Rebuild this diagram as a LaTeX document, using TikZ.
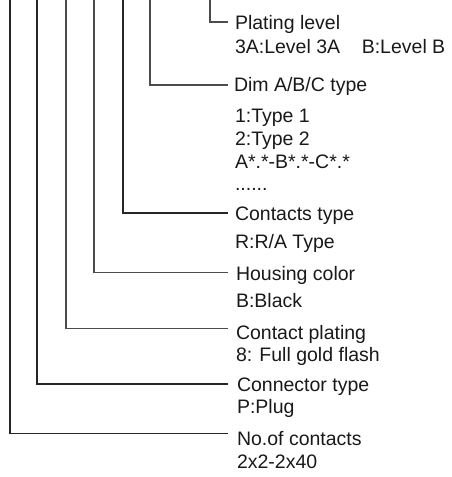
\documentclass[tikz,border=0pt]{standalone}
\usepackage{fontspec}
\setmainfont{Liberation Sans}
\begin{document}
\begin{tikzpicture}[x=1pt,y=-1pt,
  lbl/.style={anchor=base west,inner sep=0pt,outer sep=0pt,font=\fontsize{19.5}{22}\selectfont,text=black!90},
  lead/.style={draw=black!70,line width=1.1pt}]
\useasboundingbox (0,0) rectangle (451,477);
% top ends of the leader lines
\coordinate (t1) at (210,-2);
\coordinate (t2) at (150,-2);
\coordinate (t3) at (123,-2);
\coordinate (t4) at (94,-2);
\coordinate (t5) at (66,-2);
\coordinate (t6) at (37,-2);
\coordinate (t7) at (10,-2);
% right ends of the leader lines
\coordinate (e1) at (228,22);
\coordinate (e2) at (228,85);
\coordinate (e3) at (228,213);
\coordinate (e4) at (228,272.5);
\coordinate (e5) at (228,328.5);
\coordinate (e6) at (228,384);
\coordinate (e7) at (228,433.5);
% texts
\node[lbl] (n1a) at (235,29) {Plating level};
\node[lbl] (n1b) at (235,53) {3A:Level 3A\ \ \ \ B:Level B};
\node[lbl] (n2a) at (234,91.7) {Dim A/B/C type};
\node[lbl] (n2b) at (235,122) {1:Type 1};
\node[lbl] (n2c) at (235,145) {2:Type 2};
\node[lbl] (n2d) at (235,168.3) {A*.*-B*.*-C*.*};
\node[lbl] (n2e) at (235,190) {......};
\node[lbl] (n3a) at (235,220) {Contacts type};
\node[lbl] (n3b) at (235,248.3) {R:R/A Type};
\node[lbl] (n4a) at (236,280) {Housing color};
\node[lbl] (n4b) at (236,307.3) {B:Black};
\node[lbl] (n5a) at (236,339.5) {Contact plating};
\node[lbl] (n5b) at (236,361) {8: Full gold flash};
\node[lbl] (n6a) at (237,391.7) {Connector type};
\node[lbl] (n6b) at (237,413.3) {P:Plug};
\node[lbl] (n7a) at (237,445.5) {No.of contacts};
\node[lbl] (n7b) at (237,468) {2x2-2x40};
% leader lines
\draw[lead] (t1) |- (e1);
\draw[lead] (t2) |- (e2);
\draw[lead,draw=black!85] (t3) |- (e3);
\draw[lead] (t4) |- (e4);
\draw[lead] (t5) |- (e5);
\draw[lead,draw=black!85] (t6) |- (e6);
\draw[lead,draw=black!85] (t7) |- (e7);
\end{tikzpicture}
\end{document}
